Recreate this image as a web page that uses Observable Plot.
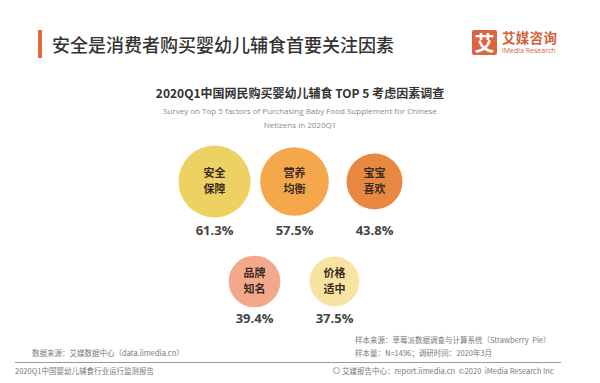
<!DOCTYPE html>
<html>
<head>
<meta charset="utf-8">
<script src="https://cdn.jsdelivr.net/npm/d3@7"></script>
<script src="https://cdn.jsdelivr.net/npm/@observablehq/plot@0.6"></script>
<style>
  html, body { margin: 0; padding: 0; background: #fff; }
  #page { position: relative; width: 600px; height: 383px; overflow: hidden; font-family: "Noto Sans CJK SC", "Noto Sans", sans-serif; }
  #chart { position: absolute; left: 0; top: 0; }
  .abs { position: absolute; white-space: nowrap; }
  #bar { left: 38px; top: 30px; width: 4px; height: 28px; background: #E2693A; }
  #title { left: 52px; top: 31px; font-size: 18px; line-height: 26px; color: #333; font-weight: 500; }
  #logoBox { left: 472px; top: 30px; width: 25px; height: 25px; background: #DA6540; color: #fff; font-weight: 700; font-size: 20px; line-height: 25px; text-align: center; border-radius: 2px; }
  #logoCn { left: 502px; top: 29px; font-size: 13.5px; line-height: 16px; font-weight: 700; color: #D4613C; letter-spacing: 0.3px; }
  #logoEn { left: 502px; top: 46px; font-size: 7px; line-height: 9px; color: #D4613C; font-family: "Open Sans", sans-serif; }
  #ctitle { left: 0; width: 600px; top: 84px; text-align: center; font-size: 12px; line-height: 18px; font-weight: 700; color: #333; }
  #csub { left: 0; width: 600px; top: 104px; text-align: center; font-size: 8px; line-height: 13.5px; color: #8a8a8a; font-family: "Open Sans", sans-serif; white-space: normal; }
  .foot { font-size: 7.5px; line-height: 10px; color: #7a7a7a; }
  #rule { left: 15px; top: 362px; width: 546px; height: 1px; background: #999; }
  #icon { left: 333px; top: 367px; width: 7px; height: 7px; border-radius: 50%; border: 1px solid #999; box-sizing: border-box; }
</style>
</head>
<body>
<div id="page">
  <div id="chart"></div>
  <div class="abs" id="bar"></div>
  <div class="abs" id="title">安全是消费者购买婴幼儿辅食首要关注因素</div>
  <div class="abs" id="logoBox">艾</div>
  <div class="abs" id="logoCn">艾媒咨询</div>
  <div class="abs" id="logoEn">iMedia Research</div>
  <div class="abs" id="ctitle">2020Q1中国网民购买婴幼儿辅食 TOP 5 考虑因素调查</div>
  <div class="abs" id="csub">Survey on Top 5 factors of Purchasing Baby Food Supplement for Chinese<br>Netizens in 2020Q1</div>
  <div class="abs foot" style="left:355px; top:335px;">样本来源：草莓派数据调查与计算系统（Strawberry&nbsp;&nbsp;Pie）</div>
  <div class="abs foot" style="left:32px; top:348px;">数据来源：艾媒数据中心（data.iimedia.cn）</div>
  <div class="abs foot" style="left:355px; top:348px;">样本量：N=1496；调研时间：2020年3月</div>
  <div class="abs" id="rule"></div>
  <div class="abs foot" style="left:15px; top:366px;">2020Q1中国婴幼儿辅食行业运行监测报告</div>
  <div class="abs" id="icon"></div>
  <div class="abs foot" style="left:342px; top:366px;">艾媒报告中心：report.iimedia.cn&nbsp;&nbsp;©2020&nbsp;&nbsp;iMedia Research Inc</div>
</div>
<script>
const factors = ["安全保障", "营养均衡", "宝宝喜欢", "品牌知名", "价格适中"];
const shares = [61.3, 57.5, 43.8, 39.4, 37.5];

const palette = ["#EED163", "#F4A84B", "#E98841", "#F2A98B", "#F8E4A2"];

// layout: first three in a top row, last two staggered in a second row
const data = factors.map((f, i) => ({
  factor: f,
  share: shares[i],
  row: i < 3 ? 0 : 1,
  col: i < 3 ? i : i - 3 + 0.5,
  line1: f.slice(0, 2),
  line2: f.slice(2)
}));

const inner = {x: "col", y: "row", fontSize: 11, fontWeight: 700, fill: "#3a2c20", fontFamily: "Noto Sans CJK SC"};
const pct = {x: "col", y: "row", text: d => d.share.toFixed(1) + "%", fontSize: 13, fontWeight: 700, fill: "#444", fontFamily: "Open Sans"};

const chart = Plot.plot({
  width: 600,
  height: 383,
  margin: 0,
  x: {domain: [0, 2], range: [214, 374], axis: null},
  y: {domain: [0, 1], range: [181, 281], axis: null},
  r: {type: "pow", exponent: 0.75, domain: [0, 61.3], range: [0, 36]},
  color: {domain: factors, range: palette},
  marks: [
    Plot.dot(data, {x: "col", y: "row", r: "share", fill: "factor", stroke: "none"}),
    Plot.text(data, {...inner, text: "line1", dy: -8}),
    Plot.text(data, {...inner, text: "line2", dy: 8}),
    Plot.text(data.filter(d => d.row === 0), {...pct, dy: 49}),
    Plot.text(data.filter(d => d.row === 1), {...pct, dy: 37})
  ]
});
document.getElementById("chart").appendChild(chart);
</script>
</body>
</html>
